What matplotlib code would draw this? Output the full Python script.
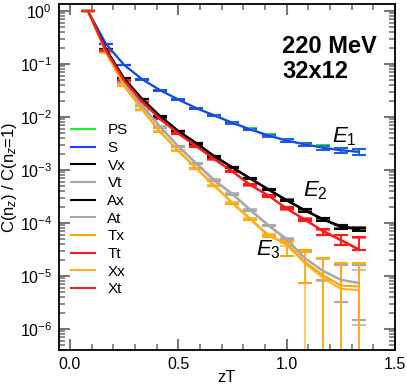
import numpy as np
import matplotlib
matplotlib.use("Agg")
import matplotlib.pyplot as plt
from matplotlib.ticker import MultipleLocator, FixedLocator, NullFormatter

plt.rcParams['font.family'] = ['Liberation Sans', 'DejaVu Sans']
plt.rcParams['mathtext.fontset'] = 'custom'
plt.rcParams['mathtext.rm'] = 'Liberation Sans'
plt.rcParams['mathtext.it'] = 'Liberation Sans:italic'

# lattice 32x12, separation n_z, normalised to n_z = 1
Nt = 12
nz = np.arange(1, 17)

# screening correlators
PS = [1.0, 0.239, 0.0960, 0.0516, 0.0320, 0.0214, 0.0147, 0.0108, 0.00785, 0.00588,
      0.00452, 0.00362, 0.00307, 0.00266, 0.00237, 0.00220]
PS_err = [0, 0.003, 0.0012, 0.0008, 0.0006, 0.0004, 0.0003, 0.00028, 0.00024, 0.0002,
          0.0002, 0.0002, 0.00022, 0.00024, 0.00026, 0.00028]
S = [1.0, 0.238, 0.0958, 0.0514, 0.0319, 0.0213, 0.0146, 0.0106, 0.00770, 0.00576,
     0.00444, 0.00357, 0.00303, 0.00263, 0.00235, 0.00219]
S_err = [0, 0.003, 0.0012, 0.0008, 0.0006, 0.0004, 0.0003, 0.00028, 0.00024, 0.0002,
         0.0002, 0.0002, 0.00022, 0.00024, 0.00026, 0.00028]

Vx = [1.0, 0.189, 0.0528, 0.0216, 0.0101, 0.00537, 0.00316, 0.00178, 0.00110, 0.000676,
      0.000420, 0.000264, 0.000172, 0.000116, 8.4e-5, 7.5e-5]
Vx_err = [0, 0.002, 0.0005, 0.0002, 1e-4, 6e-5, 4e-5, 2.5e-5, 1.8e-5, 1.3e-5,
          1e-5, 8e-6, 8e-6, 7e-6, 6e-6, 6e-6]
Ax = [1.0, 0.192, 0.0535, 0.0220, 0.0104, 0.00548, 0.00322, 0.00183, 0.00113, 0.000694,
      0.000432, 0.000271, 0.000176, 0.000119, 8.7e-5, 7.8e-5]
Ax_err = Vx_err

Tt = [1.0, 0.178, 0.0492, 0.0192, 0.00905, 0.00492, 0.00278, 0.00161, 0.000929, 0.000521,
      0.000323, 0.000189, 0.000114, 6.8e-5, 4.8e-5, 4.3e-5]
Tt_err = [0, 0.002, 0.0005, 0.0002, 1e-4, 6e-5, 4e-5, 2.5e-5, 1.8e-5, 1.2e-5,
          9e-6, 8e-6, 7e-6, 8e-6, 1.05e-5, 1.2e-5]
Xt = [1.0, 0.176, 0.0488, 0.0195, 0.00920, 0.00485, 0.00283, 0.00158, 0.000940, 0.000515,
      0.000330, 0.000185, 0.000117, 6.6e-5, 4.9e-5, 4.2e-5]
Xt_err = [0, 0.002, 0.0005, 0.0002, 1e-4, 6e-5, 4e-5, 2.5e-5, 1.8e-5, 1.2e-5,
          9e-6, 8e-6, 7e-6, 8e-6, 1e-5, 1.1e-5]

Vt = [1.0, 0.172, 0.0438, 0.0161, 0.00639, 0.00275, 0.00130, 0.000620, 0.000345, 0.000171,
      8.8e-5, 4.8e-5, 2.96e-5, 1.5e-5, 9.7e-6, 8.8e-6]
Vt_err = [0, 0.002, 0.0005, 0.0002, 8e-5, 4e-5, 2e-5, 1e-5, 6e-6, 3e-6,
          2e-6, 1.5e-6, 1.2e-6, 6.6e-6, 6.5e-6, 7.3e-6]
At = [1.0, 0.175, 0.0445, 0.0165, 0.00660, 0.00282, 0.00135, 0.000650, 0.000355, 0.000178,
      9.1e-5, 5.0e-5, 3.0e-5, 1.45e-5, 9.5e-6, 7.1e-6]
At_err = [0, 0.002, 0.0005, 0.0002, 8e-5, 4e-5, 2e-5, 1e-5, 6e-6, 3e-6,
          2e-6, 1.5e-6, 1.2e-6, 6.5e-6, 6.3e-6, 5.9e-6]

Tx = [1.0, 0.168, 0.0384, 0.0136, 0.00521, 0.00228, 0.00106, 0.000499, 0.000235, 0.000116,
      5.7e-5, 3.4e-5, 1.9e-5, 9.7e-6, 6.0e-6, 5.9e-6]
Tx_err = [0, 0.002, 0.0005, 0.0002, 7e-5, 3e-5, 1.5e-5, 8e-6, 5e-6, 3e-6,
          2e-6, 1.07e-5, 1.18e-5, 1.24e-5, 1.14e-5, 1.15e-5]
Xx = [1.0, 0.166, 0.0390, 0.0139, 0.00530, 0.00232, 0.00109, 0.000512, 0.000242, 0.000120,
      5.9e-5, 3.85e-5, 1.3e-5, 8.0e-6, 5.0e-6, 4.5e-6]
Xx_err = [0, 0.002, 0.0005, 0.0002, 7e-5, 3e-5, 1.5e-5, 8e-6, 5e-6, 3e-6,
          2e-6, 2.5e-6, 1.5e-5, 1.4e-5, 1.25e-5, 1.3e-5]

# fitted curves (differ from the data only at large n_z)
fit_Tt = Tt[:13] + [7.2e-5, 4.8e-5, 3.2e-5]
fit_Xt = Xt[:13] + [7.0e-5, 4.7e-5, 3.1e-5]
fit_Vt = Vt[:12] + [2.16e-5, 1.24e-5, 8.4e-6, 7.3e-6]
fit_At = At[:12] + [2.2e-5, 1.26e-5, 8.5e-6, 7.4e-6]
fit_Tx = Tx[:11] + [4.14e-5, 1.86e-5, 1.04e-5, 6.6e-6, 6.3e-6]
fit_Xx = Xx[:11] + [3.85e-5, 1.74e-5, 9.3e-6, 5.7e-6, 5.4e-6]

# (label, data, error, curve, colour, error-bar alpha)
channels = [
    ("PS", PS, PS_err, PS, "#22ee22", 1.0),
    ("S", S, S_err, S, "#1f3cff", 0.8),
    ("Vx", Vx, Vx_err, Vx, "black", 1.0),
    ("Vt", Vt, Vt_err, fit_Vt, "#a8a8a8", 1.0),
    ("Ax", Ax, Ax_err, Ax, "black", 0.6),
    ("At", At, At_err, fit_At, "#a8a8a8", 0.7),
    ("Tx", Tx, Tx_err, fit_Tx, "#ffa500", 1.0),
    ("Tt", Tt, Tt_err, fit_Tt, "#ff1a1a", 1.0),
    ("Xx", Xx, Xx_err, fit_Xx, "#ffb020", 0.7),
    ("Xt", Xt, Xt_err, fit_Xt, "#ff1a1a", 0.6),
]
ytick_vals = [1e-6, 1e-5, 1e-4, 1e-3, 1e-2, 1e-1, 1e0]
ytick_text = [r"10$^{-6}$", r"10$^{-5}$", r"10$^{-4}$", r"10$^{-3}$",
              r"10$^{-2}$", r"10$^{-1}$", r"10$^{0}$"]

zT = nz / Nt

fig = plt.figure(figsize=(4.07, 3.87), dpi=100)
ax = fig.add_axes([0.145, 0.0956, 0.8255, 0.894])

for label, y, err, curve, col, a in channels:
    ax.errorbar(zT, y, yerr=err, fmt="none", ecolor=col, elinewidth=1.3,
                capsize=5, capthick=1.5, alpha=a, zorder=2)
    ax.plot(zT, curve, color=col, lw=1.5, label=label, zorder=3)

ax.set_yscale("log")
ax.set_xlim(-0.05, 1.5)
ax.set_ylim(4e-7, 1.35)

ax.xaxis.set_major_locator(MultipleLocator(0.5))
ax.xaxis.set_minor_locator(MultipleLocator(0.1))
ax.xaxis.set_major_formatter(plt.FuncFormatter(lambda v, p: f"{v:.1f}"))
ax.yaxis.set_major_locator(FixedLocator(ytick_vals))
ax.set_yticklabels(ytick_text)
minors = [m * 10.0 ** e for e in range(-7, 1) for m in range(2, 10)]
ax.yaxis.set_minor_locator(FixedLocator(minors))
ax.yaxis.set_minor_formatter(NullFormatter())

ax.tick_params(which="both", direction="in", top=True, right=True,
               color="#777777", labelsize=11.5)
ax.tick_params(which="major", length=8, width=1.5, pad=5)
ax.tick_params(which="minor", length=4.5, width=1.2)
for sp in ax.spines.values():
    sp.set_linewidth(1.3)

ax.set_xlabel("zT", fontsize=12)
ax.set_ylabel(r"C(n$_z$) / C(n$_z$=1)", fontsize=12)
ax.xaxis.set_label_coords(0.5, -0.058)
ax.yaxis.set_label_coords(-0.118, 0.5)

ax.text(0.664, 0.84, "220 MeV\n32x12", transform=ax.transAxes, ha="left",
        va="center", fontsize=17, fontweight="bold", linespacing=1.1)
ax.text(0.8125, 0.601, r"$E_1$", transform=ax.transAxes, fontsize=16)
ax.text(0.726, 0.445, r"$E_2$", transform=ax.transAxes, fontsize=16)
ax.text(0.585, 0.272, r"$E_3$", transform=ax.transAxes, fontsize=16)

ax.legend(loc="upper left", bbox_to_anchor=(0.035, 0.655), frameon=False,
          fontsize=11, handlelength=1.6, handletextpad=0.8, labelspacing=0.24,
          borderaxespad=0, borderpad=0)

plt.savefig("out.png", dpi=100)
